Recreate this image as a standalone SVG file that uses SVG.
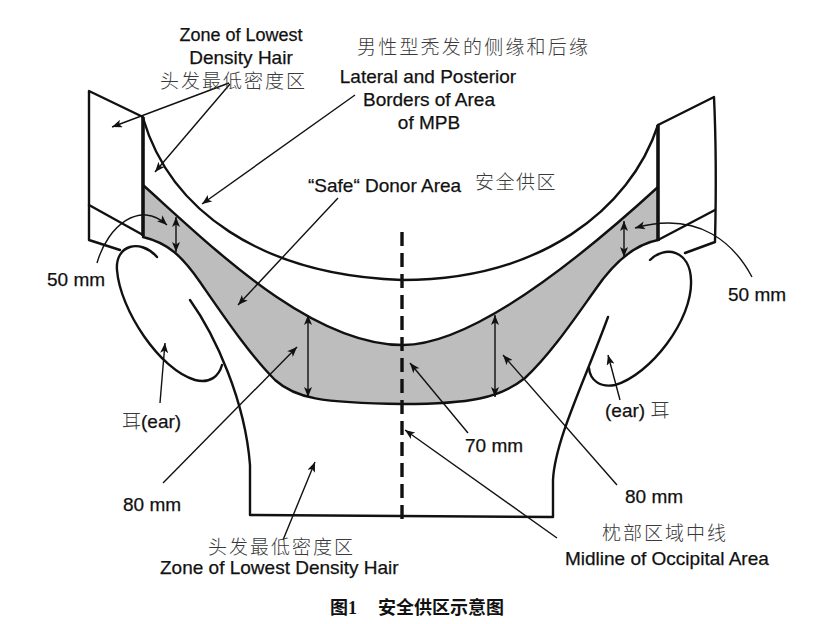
<svg xmlns="http://www.w3.org/2000/svg" width="820" height="624" viewBox="0 0 820 624">
<style>
.o{fill:none;stroke:#111;stroke-width:2.4;stroke-linejoin:round;stroke-linecap:round}
.k{fill:none;stroke:#111;stroke-width:3.6;stroke-linecap:butt}
.a{fill:none;stroke:#111;stroke-width:1.4}
.en{font-family:"Liberation Sans",Arial,sans-serif;font-size:19px;fill:#111;stroke:#111;stroke-width:0.25}
.zh{font-family:"Noto Sans CJK SC",sans-serif;font-size:19px;font-weight:300;fill:#3a3a3a;letter-spacing:2px}
.cap{font-family:"Noto Sans CJK SC",sans-serif;font-size:18px;font-weight:700;fill:#111}
</style>
<defs>
<marker id="ah" viewBox="0 0 10 8" refX="10" refY="4" markerWidth="11" markerHeight="8" markerUnits="userSpaceOnUse" orient="auto-start-reverse">
<path d="M0,0 L10,4 L0,8 L2.5,4 Z" fill="#111"/>
</marker>
</defs>
<rect width="820" height="624" fill="#fff"/>

<g id="donor-area">
<path d="M143,185 C 210,245 310,345 403,345 C 480,345 600,240 658,187 L 658,240 C 632,245 612,265 595,290 C 575,318 550,355 525,378 C 500,398 470,404 403,404 C 320,403 295,398 275,380 C 250,355 225,318 200,282 C 182,256 168,243 143,237 Z" fill="#bdbdbd" stroke="none"/>
<path class="o" d="M143,185 C 210,245 310,345 403,345 C 480,345 600,240 658,187"/>
<path class="o" d="M658,240 C 632,245 612,265 595,290 C 575,318 550,355 525,378 C 500,398 470,404 403,404 C 320,403 295,398 275,380 C 250,355 225,318 200,282 C 182,256 168,243 143,237"/>
</g>

<g id="mpb-border">
<path class="o" d="M143,118 C 170,210 260,275 402,280 C 540,280 630,210 658,125"/>
</g>

<g id="left-panel">
<path class="o" d="M143,117 L89,91 L89,240 L120,250"/>
<path class="o" d="M89,205 L143,235"/>
<path class="k" d="M143,117 L143,236"/>
</g>

<g id="right-panel">
<path class="o" d="M658,125 L714,97 C 716,140 716,200 715,242 L685,253"/>
<path class="o" d="M658,240 L715,210"/>
<path class="k" d="M658,125 L658,241"/>
</g>

<g id="left-ear">
<path class="o" d="M157,257 C 140,238 115,245 117,270 C 120,310 160,370 195,380 C 210,384 219,376 222,365"/>
</g>

<g id="right-ear">
<path class="o" d="M650,260 C 665,245 690,250 691,280 C 693,320 650,375 615,385 C 600,388 590,380 589,368"/>
</g>

<g id="neck">
<path class="o" d="M190,300 C 215,335 245,400 250,465 L250,515 L553,517 L553,480 C 555,440 585,380 608,317"/>
</g>

<g id="midline">
<path d="M402,232 L402,526" fill="none" stroke="#111" stroke-width="3.4" stroke-dasharray="14 7"/>
</g>

<g id="connectors">
<path class="a" d="M229,83 L112,127" marker-end="url(#ah)"/>
<path class="a" d="M230,84 L155,172" marker-end="url(#ah)"/>
<path class="a" d="M355,95 L202,204" marker-end="url(#ah)"/>
<path class="a" d="M338,198 L238,305" marker-end="url(#ah)"/>
<path class="a" d="M97,263 C 108,225 140,200 167,225" marker-end="url(#ah)"/>
<path class="a" d="M176,217 L176,252" marker-start="url(#ah)" marker-end="url(#ah)"/>
<path class="a" d="M752,277 C 735,245 700,210 635,228" marker-end="url(#ah)"/>
<path class="a" d="M624,221 L624,257" marker-start="url(#ah)" marker-end="url(#ah)"/>
<path class="a" d="M163,483 L297,347" marker-end="url(#ah)"/>
<path class="a" d="M308,315 L308,397" marker-start="url(#ah)" marker-end="url(#ah)"/>
<path class="a" d="M617,485 L503,355" marker-end="url(#ah)"/>
<path class="a" d="M495,315 L495,397" marker-start="url(#ah)" marker-end="url(#ah)"/>
<path class="a" d="M468,433 L410,363" marker-end="url(#ah)"/>
<path class="a" d="M557,538 L405,430" marker-end="url(#ah)"/>
<path class="a" d="M160,403 L165,343" marker-end="url(#ah)"/>
<path class="a" d="M620,400 L608,355" marker-end="url(#ah)"/>
<path class="a" d="M283,540 L315,462" marker-end="url(#ah)"/>
</g>

<g id="labels">
<text class="en" x="241" y="41" text-anchor="middle" style="font-size:18px">Zone of Lowest</text>
<text class="en" x="241" y="64" text-anchor="middle">Density Hair</text>
<text class="zh" x="160" y="88">头发最低密度区</text>
<text class="zh" x="357" y="54" style="letter-spacing:2.2px">男性型秃发的侧缘和后缘</text>
<text class="en" x="428" y="83" text-anchor="middle">Lateral and Posterior</text>
<text class="en" x="429" y="106" text-anchor="middle">Borders of Area</text>
<text class="en" x="429" y="129" text-anchor="middle">of MPB</text>
<text class="en" x="308" y="192">“Safe“ Donor Area</text>
<text class="zh" x="475" y="189" style="letter-spacing:1.5px">安全供区</text>
<text class="en" x="47" y="286">50 mm</text>
<text class="en" x="728" y="301">50 mm</text>
<text x="122" y="428"><tspan class="zh" style="letter-spacing:0">耳</tspan><tspan class="en">(ear)</tspan></text>
<text x="605" y="417"><tspan class="en">(ear) </tspan><tspan class="zh" style="letter-spacing:0">耳</tspan></text>
<text class="en" x="465" y="452">70 mm</text>
<text class="en" x="123" y="511">80 mm</text>
<text class="en" x="625" y="503">80 mm</text>
<text class="zh" x="602" y="540">枕部区域中线</text>
<text class="en" x="565" y="565">Midline of Occipital Area</text>
<text class="zh" x="208" y="554">头发最低密度区</text>
<text class="en" x="160" y="574">Zone of Lowest Density Hair</text>
<text class="cap" x="330" y="614">图<tspan style="font-family:'Liberation Serif',serif;font-weight:700">1</tspan><tspan x="378">安全供区示意图</tspan></text>
</g>
</svg>
